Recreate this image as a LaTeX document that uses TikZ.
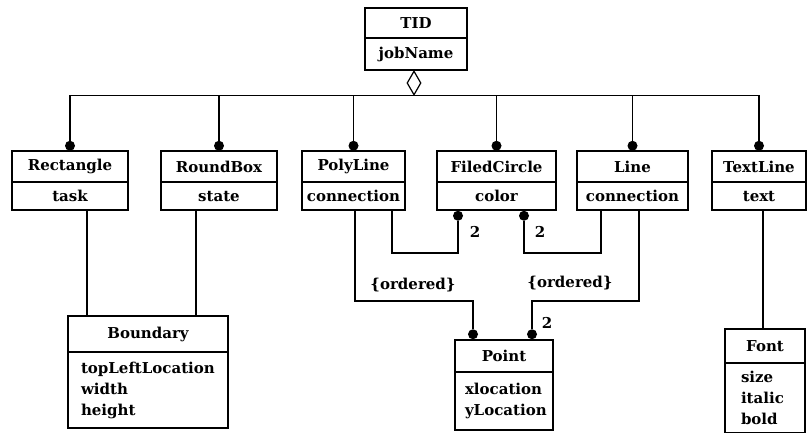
\documentclass[tikz,border=0pt]{standalone}
\usepackage{fontspec}
\setmainfont{DejaVu Serif}
\usetikzlibrary{shapes.geometric}
\newcommand{\clsfont}{\fontsize{15}{21}\selectfont\bfseries}
\tikzset{
  box/.style={draw, line width=1.5pt, inner sep=0pt, font=\clsfont},
  ttl/.style={box, minimum width=#1},
  att/.style={box, minimum width=#1},
  dot/.style={circle, fill=black, inner sep=0pt, minimum size=10pt},
  link/.style={line width=1.2pt},
  lbl/.style={font=\clsfont, inner sep=0pt},
}
\begin{document}
\begin{tikzpicture}[x=1pt, y=-1pt]
\useasboundingbox (0,0) rectangle (809,432);

% root class and aggregation diamond
\node[ttl=102, minimum height=30] (tid) at (416,23) {TID};
\node[att=102, minimum height=32] (tida) at (416,54) {jobName};
\node[draw, line width=1.2pt, diamond, fill=white, inner sep=0pt,
      minimum width=14pt, minimum height=24pt] (agg) at (414,83) {};

% parts of the diagram
\node[ttl=116, minimum height=31] (rect) at (70,166.5) {Rectangle};
\node[att=116, minimum height=28] (recta) at (70,196) {task};
\node[ttl=116, minimum height=31] (round) at (219,166.5) {RoundBox};
\node[att=116, minimum height=28] (rounda) at (219,196) {state};
\node[ttl=103, minimum height=31] (poly) at (353.5,166.5) {PolyLine};
\node[att=103, minimum height=28] (polya) at (353.5,196) {connection};
\node[ttl=119, minimum height=31] (fc) at (496.5,166.5) {FiledCircle};
\node[att=119, minimum height=28] (fca) at (496.5,196) {color};
\node[ttl=111, minimum height=31] (line) at (632.5,166.5) {Line};
\node[att=111, minimum height=28] (linea) at (632.5,196) {connection};
\node[ttl=94, minimum height=31] (tl) at (759,166.5) {TextLine};
\node[att=94, minimum height=28] (tla) at (759,196) {text};

% lower classes
\node[ttl=160, minimum height=36] (bnd) at (148,334) {Boundary};
\node[box, minimum height=76, inner xsep=13pt, text width=134pt, align=left] (bnda) at (148,390)
  {topLeftLocation\\width\\height};
\node[ttl=98, minimum height=32] (pt) at (504,356) {Point};
\node[box, minimum height=58, inner xsep=10pt, text width=78pt, align=left] (pta) at (504,401)
  {xlocation\\yLocation};
\node[ttl=80, minimum height=34] (fnt) at (765,346) {Font};
\node[box, minimum height=69, inner xsep=16pt, text width=48pt, align=left] (fnta) at (765,398)
  {size\\italic\\bold};

% composition dots
\foreach \n in {rect,round,poly,fc,line,tl}
  \node[dot] (\n dot) at ([yshift=4.5pt]\n.north) {};
\node[dot] (fcd1) at ([xshift=-38.5pt,yshift=-5pt]fca.south) {};
\node[dot] (fcd2) at ([xshift=27.5pt,yshift=-5pt]fca.south) {};
\node[dot] (ptd1) at ([xshift=-31pt,yshift=5pt]pt.north) {};
\node[dot] (ptd2) at ([xshift=28pt,yshift=5pt]pt.north) {};

% routing levels
\coordinate (lvA) at (0,253);
\coordinate (lvB) at (0,301);

% aggregation bus
\foreach \n in {rect,round,poly,fc,line,tl}
  \draw[link] (agg.south) -| (\n dot);

% associations
\draw[link] ([xshift=17pt]recta.south) -- ([xshift=17pt]recta.south |- bnd.north);
\draw[link] ([xshift=-23pt]rounda.south) -- ([xshift=-23pt]rounda.south |- bnd.north);
\draw[link] ([xshift=4pt]tla.south) -- ([xshift=4pt]tla.south |- fnt.north);
\draw[link] ([xshift=38.5pt]polya.south) -- ([xshift=38.5pt]polya.south |- lvA) -| (fcd1);
\draw[link] (fcd2) -- (fcd2 |- lvA) -| ([xshift=-31.5pt]linea.south);
\draw[link] ([xshift=1.5pt]polya.south) -- ([xshift=1.5pt]polya.south |- lvB) -| (ptd1);
\draw[link] ([xshift=6.5pt]linea.south) -- ([xshift=6.5pt]linea.south |- lvB) -| (ptd2);

% multiplicities and constraints
\node[lbl] (m1) at (475,232) {2};
\node[lbl] (m2) at (540,232) {2};
\node[lbl] (m3) at (547,323) {2};
\node[lbl] (o1) at (413,285) {\{ordered\}};
\node[lbl] (o2) at (570,283) {\{ordered\}};
\end{tikzpicture}
\end{document}
